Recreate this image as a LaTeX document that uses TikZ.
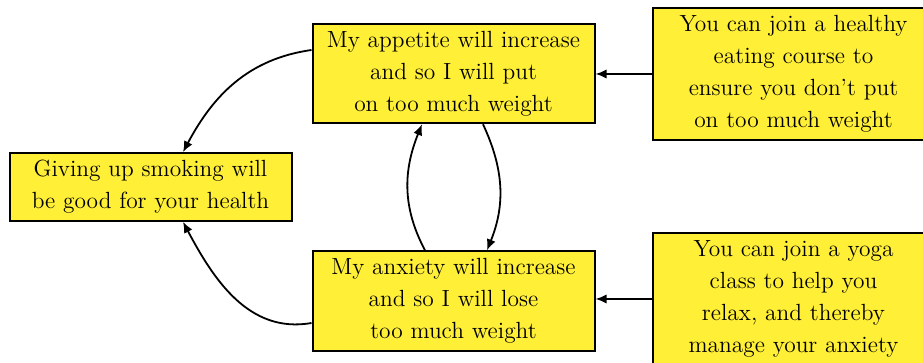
\documentclass[tikz,border=0pt]{standalone}
\usetikzlibrary{arrows.meta}
\definecolor{boxyellow}{RGB}{255,240,55}
\begin{document}
\begin{tikzpicture}[x=0.5pt,y=-0.5pt,
  box/.style={draw=black, line width=1pt, fill=boxyellow, rectangle,
    text width=130pt, align=center, inner xsep=5.5pt, inner ysep=3.6pt,
    font=\fontsize{11.7}{16}\selectfont},
  conn/.style={line width=0.9pt, -{Latex[length=5.5pt,width=4.6pt]}}]
\useasboundingbox (0,0) rectangle (923,363);
\node[box] (hl) at (150.5,187) {Giving up smoking will\\be good for your health};
\node[box] (app) at (453.5,73.5) {My appetite will increase\\and so I will put\\on too much weight};
\node[box] (anx) at (453.5,301) {My anxiety will increase\\and so I will lose\\too much weight};
\node[box] (eat) at (793.5,74) {You can join a healthy\\eating course to\\ensure you don't put\\on too much weight};
\node[box] (yoga) at (793.5,299) {You can join a yoga\\class to help you\\relax, and thereby\\manage your anxiety};
\draw[conn] ([yshift=11.75pt]app.west) to[out=188,in=62] ([xshift=16.25pt]hl.north);
\draw[conn] ([yshift=-11pt]anx.west) to[out=190,in=-62] ([xshift=16.25pt]hl.south);
\draw[conn] ([xshift=-14.25pt]anx.north) to[out=118,in=-112] ([xshift=-15.75pt]app.south);
\draw[conn] ([xshift=14.75pt]app.south) to[out=-65,in=68] ([xshift=16.75pt]anx.north);
\draw[conn] (eat.west) -- (app.east |- eat.west);
\draw[conn] (yoga.west) -- (anx.east |- yoga.west);
\end{tikzpicture}
\end{document}
